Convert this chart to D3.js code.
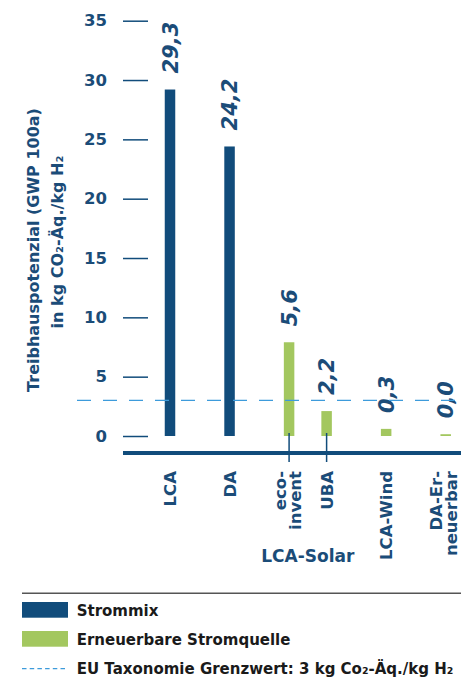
<!DOCTYPE html>
<html>
<head>
<meta charset="utf-8">
<script src="https://cdn.jsdelivr.net/npm/d3@7"></script>
<style>
  body { margin: 0; background: #fff; }
  text { font-family: "DejaVu Sans", sans-serif; font-weight: bold; }
</style>
</head>
<body>
<script>
// GWP per kg H2 by electricity source

var categories = ["LCA", "DA", "eco-invent", "UBA", "LCA-Wind", "DA-Erneuerbar"];
var categoryLines = [["LCA"], ["DA"], ["eco-", "invent"], ["UBA"], ["LCA-Wind"], ["DA-Er-", "neuerbar"]];
var groups = ["LCA", "DA", "LCA-Solar", "LCA-Solar", "LCA-Wind", "DA-Erneuerbar"];
var sources = ["Strommix", "Strommix", "Erneuerbar", "Erneuerbar", "Erneuerbar", "Erneuerbar"];
// bar heights as drawn, and the printed value labels
var values = [29.2, 24.4, 7.9, 2.1, 0.6, 0.15];
var valueLabels = ["29,3", "24,2", "5,6", "2,2", "0,3", "0,0"];
var yTicks = [0, 5, 10, 15, 20, 25, 30, 35];
var threshold = 3;
var legendLabels = ["Strommix", "Erneuerbare Stromquelle", "EU Taxonomie Grenzwert: 3 kg Co\u2082-\u00C4q./kg H\u2082"];

var colors = {
    "Strommix": "#114c7b",
    "Erneuerbar": "#a3c75f",
    "text": "#1b4c78",
    "dash": "#3d9bdb",
    "legendText": "#1a1a1a"
};

var width = 461, height = 677;

var svg = d3.select("body").append("svg")
    .attr("width", width)
    .attr("height", height);

// slots: bars of the same group sit closer together
var slots = [];
groups.forEach(function(g, i) {
    if (i === 0) slots.push(0);
    else slots.push(slots[i - 1] + (g === groups[i - 1] ? 0.63 : 1));
});

var x = d3.scaleLinear()
    .domain([0, d3.max(slots)])
    .range([170, 445.7]);

var y = d3.scaleLinear()
    .domain([0, 35])
    .range([436, 20.7]);

var barWidth = 10.5;

// y axis ticks
var yAxis = svg.append("g")
    .attr("transform", "translate(148,0)")
    .call(d3.axisLeft(y).tickValues(yTicks).tickSize(25).tickPadding(16).tickFormat(d3.format("d")));
yAxis.select(".domain").remove();
yAxis.selectAll("line").attr("stroke", colors.Strommix).attr("stroke-width", 1.5);
yAxis.selectAll("text")
    .attr("fill", colors.text)
    .style("font-size", "16.5px")
    .style("font-family", "'DejaVu Sans', sans-serif")
    .style("font-weight", "bold");

// axis title
var title = svg.append("g").attr("fill", colors.text).style("font-size", "16px");
title.append("text")
    .attr("transform", "translate(39,250) rotate(-90)")
    .attr("text-anchor", "middle")
    .text("Treibhauspotenzial (GWP 100a)");
title.append("text")
    .attr("transform", "translate(63,242) rotate(-90)")
    .attr("text-anchor", "middle")
    .text("in kg CO\u2082-\u00C4q./kg H\u2082");

// bars
svg.selectAll("rect.bar")
    .data(values)
    .enter()
    .append("rect")
    .attr("class", "bar")
    .attr("x", function(d, i) { return x(slots[i]) - barWidth / 2; })
    .attr("y", function(d) { return y(d); })
    .attr("width", barWidth)
    .attr("height", function(d) { return y(0) - y(d); })
    .style("fill", function(d, i) { return colors[sources[i]]; });

// value labels
svg.selectAll("text.value")
    .data(valueLabels)
    .enter()
    .append("text")
    .attr("class", "value")
    .attr("transform", function(d, i) {
        return "translate(" + (x(slots[i]) + 7.5) + "," + (y(values[i]) - 16) + ") rotate(-90)";
    })
    .attr("fill", colors.text)
    .style("font-size", "21px")
    .style("font-style", "italic")
    .text(function(d) { return d; });

// threshold line
svg.append("line")
    .attr("x1", 77).attr("x2", width)
    .attr("y1", y(threshold)).attr("y2", y(threshold))
    .attr("stroke", colors.dash)
    .attr("stroke-width", 1.3)
    .attr("stroke-dasharray", "14,12");

// baseline
svg.append("line")
    .attr("x1", 123).attr("x2", width)
    .attr("y1", 453).attr("y2", 453)
    .attr("stroke", colors.Strommix)
    .attr("stroke-width", 4);

// connectors for grouped bars
categories.forEach(function(c, i) {
    var n = groups.filter(function(g) { return g === groups[i]; }).length;
    if (n > 1) {
        svg.append("line")
            .attr("x1", x(slots[i])).attr("x2", x(slots[i]))
            .attr("y1", y(0) - 3).attr("y2", 462)
            .attr("stroke", colors.Strommix)
            .attr("stroke-width", 1.5);
    }
});

// category labels
categoryLines.forEach(function(lines, i) {
    var cx = x(slots[i]);
    var offsets = lines.length === 1 ? [6] : [-3.5, 11.5];
    lines.forEach(function(line, j) {
        svg.append("text")
            .attr("transform", "translate(" + (cx + offsets[j]) + ",471) rotate(-90)")
            .attr("text-anchor", "end")
            .attr("fill", colors.text)
            .style("font-size", "16.5px")
            .text(line);
    });
});

// group label
var solarIdx = [];
groups.forEach(function(g, i) { if (g === "LCA-Solar") solarIdx.push(i); });
svg.append("text")
    .attr("x", d3.mean(solarIdx, function(i) { return x(slots[i]); }))
    .attr("y", 562)
    .attr("text-anchor", "middle")
    .attr("fill", colors.text)
    .style("font-size", "17px")
    .text("LCA-Solar");

// legend
svg.append("line")
    .attr("x1", 22).attr("x2", width)
    .attr("y1", 593.3).attr("y2", 593.3)
    .attr("stroke", "#555")
    .attr("stroke-width", 1.5);

var legend = svg.append("g").attr("transform", "translate(22,0)");
legend.append("rect")
    .attr("x", 0).attr("y", 602).attr("width", 46).attr("height", 15.7)
    .style("fill", colors.Strommix);
legend.append("rect")
    .attr("x", 0).attr("y", 631).attr("width", 46).attr("height", 15.7)
    .style("fill", colors.Erneuerbar);
legend.append("line")
    .attr("x1", 0).attr("x2", 46)
    .attr("y1", 668.7).attr("y2", 668.7)
    .attr("stroke", colors.dash)
    .attr("stroke-width", 1.2)
    .attr("stroke-dasharray", "4.5,3.2");

legend.selectAll("text.leg")
    .data(legendLabels)
    .enter()
    .append("text")
    .attr("class", "leg")
    .attr("x", 54.7)
    .attr("y", function(d, i) { return 616 + i * 29; })
    .attr("fill", colors.legendText)
    .style("font-size", "15px")
    .text(function(d) { return d; });
</script>
</body>
</html>
